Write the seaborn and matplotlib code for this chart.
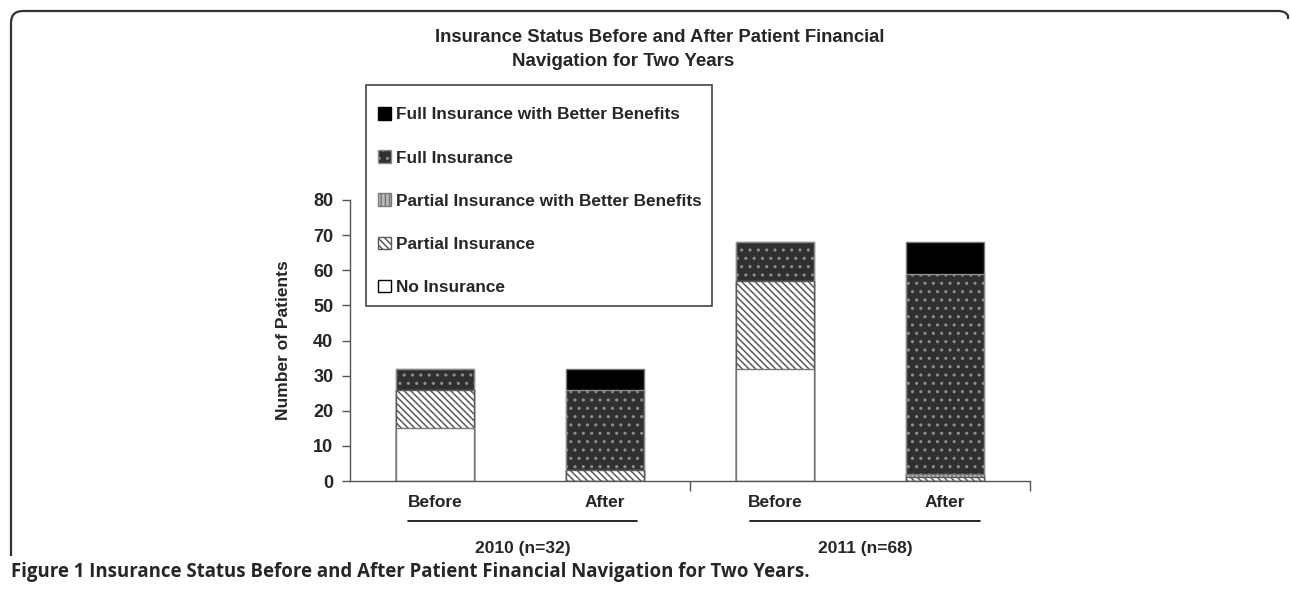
import matplotlib
matplotlib.use("Agg")
import matplotlib.pyplot as plt
from matplotlib.patches import Patch, PathPatch, Rectangle
from matplotlib.path import Path
from matplotlib.lines import Line2D
import seaborn as sns
import numpy as np

# ---- data ----
bar_keys = ["2010 Before", "2010 After", "2011 Before", "2011 After"]
bar_labels = ["Before", "After", "Before", "After"]
group_labels = ["2010 (n=32)", "2011 (n=68)"]
series_names = ["No Insurance", "Partial Insurance", "Partial Insurance with Better Benefits",
                "Full Insurance", "Full Insurance with Better Benefits"]
no_ins = [15, 0, 32, 0]
partial = [11, 3, 25, 1]
partial_better = [0, 0, 0, 1]
full = [6, 23, 11, 57]
full_better = [0, 6, 0, 9]
yticks = [0, 10, 20, 30, 40, 50, 60, 70, 80]
title_lines = ["Insurance Status Before and After Patient Financial", "Navigation for Two Years"]
ylabel = "Number of Patients"
caption = "Figure 1 Insurance Status Before and After Patient Financial Navigation for Two Years."

# ---- style ----
sns.set_style("white")
plt.rcParams['font.family'] = ['Liberation Sans', 'DejaVu Sans']
plt.rcParams['hatch.linewidth'] = 1.1

W, H = 1290, 594
fig = plt.figure(figsize=(W / 100, H / 100), dpi=100)
ax = fig.add_axes([350 / W, 1 - 481 / H, 680 / W, 281 / H])

layers = [no_ins, partial, partial_better, full, full_better]
styles = [
    dict(face="white", edge="#777777", hatch=None),
    dict(face="white", edge="#5a5a5a", hatch="\\\\\\\\\\"),
    dict(face="#bbbbbb", edge="#777777", hatch="||||"),
    dict(face="#303030", edge="#8c8c8c", hatch=".."),
    dict(face="black", edge="#777777", hatch=None),
]
cum = np.cumsum(np.array(layers), axis=0)

# draw from top layer (largest cumulative) down so lower layers overlay
for i in range(len(layers) - 1, -1, -1):
    st = styles[i]
    n_before = len(ax.patches)
    sns.barplot(x=bar_keys, y=list(cum[i]), order=bar_keys, color=st["face"], saturation=1,
                width=0.46, edgecolor=st["edge"], linewidth=1.0, ax=ax)
    for p in ax.patches[n_before:]:
        if st["hatch"]:
            p.set_hatch(st["hatch"])

ax.set_xlim(-0.5, 3.5)
ax.set_ylim(0, 80)
ax.set_yticks(yticks)
ax.set_yticklabels([str(v) for v in yticks], fontsize=13, fontweight="bold")
ax.tick_params(axis="y", direction="out", length=6, width=1, color="#555555", pad=6, left=True)
ax.set_xticks([0, 1, 2, 3])
ax.set_xticklabels(bar_labels, fontsize=12.5, fontweight="bold")
ax.tick_params(axis="x", length=0, pad=10)
ax.set_xticks([1.5, 3.5], minor=True)
ax.tick_params(axis="x", which="minor", direction="out", length=7, width=1, color="#555555", bottom=True)
ax.set_xlabel("")
ax.set_ylabel(ylabel, fontsize=12.5, fontweight="bold", labelpad=16)
for s in ["top", "right"]:
    ax.spines[s].set_visible(False)
for s in ["left", "bottom"]:
    ax.spines[s].set_color("#555555")
    ax.spines[s].set_linewidth(1.0)

# group underlines and labels
for gx0, gx1, lab in [(408, 637, group_labels[0]), (750, 980, group_labels[1])]:
    fig.add_artist(Line2D([gx0 / W, gx1 / W], [1 - 521 / H, 1 - 521 / H], color="black", lw=1.2))
    fig.text((gx0 + gx1) / 2 / W, 1 - 549 / H, lab, ha="center", va="center",
             fontsize=12.5, fontweight="bold")

# title
fig.text(660 / W, 1 - 37 / H, title_lines[0], ha="center", va="center", fontsize=13.3, fontweight="bold")
fig.text(623 / W, 1 - 61 / H, title_lines[1], ha="center", va="center", fontsize=13.5, fontweight="bold")

# legend (frame drawn separately as a rectangle)
handles = []
for i in range(len(layers) - 1, -1, -1):
    st = styles[i]
    handles.append(Patch(facecolor=st["face"], edgecolor="black" if st["hatch"] is None else st["edge"],
                         hatch=st["hatch"], linewidth=1.0, label=series_names[i]))
fig.add_artist(Rectangle((366 / W, 1 - 306 / H), (712 - 366) / W, (306 - 85) / H,
                         transform=fig.transFigure, facecolor="white", edgecolor="#444444",
                         linewidth=1.2, zorder=2))
leg = fig.legend(handles=handles, loc="upper left", bbox_to_anchor=(378 / W, 1 - 107 / H),
                 frameon=False,
                 prop=dict(family="Liberation Sans", weight="bold", size=12.4),
                 handlelength=0.75, handleheight=0.75, handletextpad=0.3,
                 labelspacing=1.62, borderpad=0, borderaxespad=0)
leg.set_zorder(3)

# caption
fig.text(11 / W, 1 - 572 / H, caption, ha="left", va="center",
         fontsize=13.45, fontweight="bold", family=["Open Sans", "DejaVu Sans"])

# rounded frame (left side and top, ends above the caption)
r = 12.0
verts_px = [(11, 556), (11, 11 + r), (11, 11), (11 + r, 11), (1278, 11), (1286, 11), (1288, 16), (1288, 19)]
codes = [Path.MOVETO, Path.LINETO, Path.CURVE3, Path.CURVE3, Path.LINETO, Path.CURVE3, Path.CURVE3, Path.LINETO]
verts = [(x / W, 1 - y / H) for x, y in verts_px]
fig.add_artist(PathPatch(Path(verts, codes), transform=fig.transFigure, facecolor="none",
                         edgecolor="#333333", linewidth=1.6))

fig.savefig("out.png", dpi=100)
